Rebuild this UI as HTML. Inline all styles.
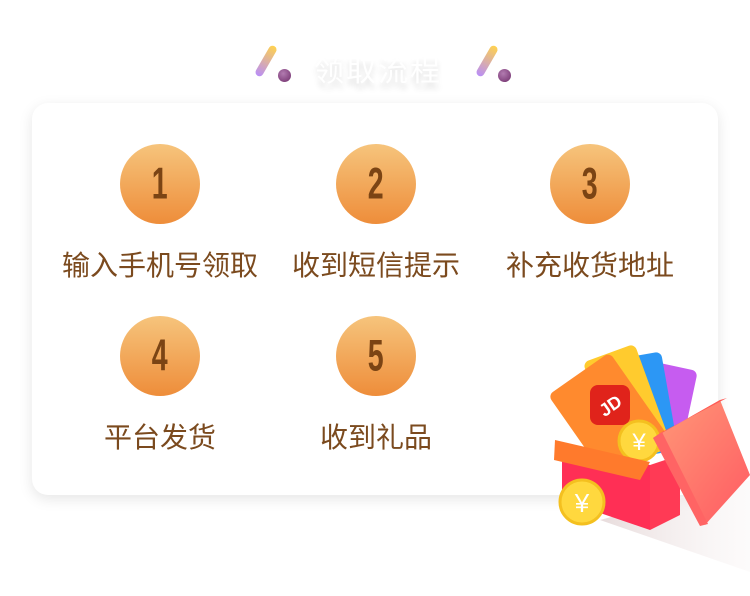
<!DOCTYPE html>
<html><head><meta charset="utf-8"><style>
body{margin:0;width:750px;height:596px;background:#fff;overflow:hidden;position:relative;font-family:"Liberation Sans","Noto Sans CJK SC",sans-serif}
.card{position:absolute;left:32px;top:103px;width:686px;height:392px;background:#fff;border-radius:16px;box-shadow:0 4px 14px rgba(0,0,0,0.10)}
.title{position:absolute;left:314px;top:46px;font-size:30px;color:#fff;text-shadow:0 6px 6px rgba(0,0,0,0.12);letter-spacing:2px}
.step{position:absolute;width:220px;text-align:center}
.circ{width:80px;height:80px;border-radius:50%;margin:0 auto;background:linear-gradient(#f6c47c,#ee8d3a);color:#7b4414;font-size:42px;font-weight:bold;line-height:80px;font-family:"Liberation Sans Narrow","Liberation Sans",sans-serif}
.circ span{display:inline-block;transform:scale(0.68,1.05)}
.lab{margin-top:23px;font-size:28px;line-height:38px;color:#7b4a1e;font-family:"Liberation Sans","Noto Sans CJK SC",sans-serif;white-space:nowrap}
.stick{position:absolute;width:8px;height:34px;border-radius:4px;background:linear-gradient(#ffd24f,#b98ef7);transform:rotate(30deg)}
.ball{position:absolute;width:13px;height:13px;border-radius:50%;background:radial-gradient(circle at 40% 35%,#b27bb0,#6f2e6a)}
</style></head><body>
<div class="stick" style="left:262px;top:44px"></div>
<div class="ball" style="left:278px;top:69px"></div>
<div class="title">领取流程</div>
<div class="stick" style="left:483px;top:44px"></div>
<div class="ball" style="left:498px;top:69px"></div>
<div class="card"></div>
<div class="step" style="left:50px;top:144px"><div class="circ"><span>1</span></div><div class="lab">输入手机号领取</div></div>
<div class="step" style="left:266px;top:144px"><div class="circ"><span>2</span></div><div class="lab">收到短信提示</div></div>
<div class="step" style="left:480px;top:144px"><div class="circ"><span>3</span></div><div class="lab">补充收货地址</div></div>
<div class="step" style="left:50px;top:316px"><div class="circ"><span>4</span></div><div class="lab">平台发货</div></div>
<div class="step" style="left:266px;top:316px"><div class="circ"><span>5</span></div><div class="lab">收到礼品</div></div>
<svg style="position:absolute;left:540px;top:340px" width="210" height="256" viewBox="0 0 210 256">
<defs>
<linearGradient id="sh" x1="0" y1="0" x2="1" y2="0"><stop offset="0" stop-color="#e8dcdc"/><stop offset="1" stop-color="#f7f2f2" stop-opacity="0.3"/></linearGradient>
<linearGradient id="lid" x1="0" y1="0" x2="1" y2="1"><stop offset="0" stop-color="#ff9a78"/><stop offset="1" stop-color="#ff5a62"/></linearGradient>
</defs>
<polygon points="60,180 210,140 210,232" fill="url(#sh)"/>
<rect x="100" y="25" width="50" height="80" rx="6" fill="#c65cf0" transform="rotate(12 125 65)"/>
<rect x="80" y="15" width="50" height="100" rx="6" fill="#2c97f5" transform="rotate(-10 105 65)"/>
<rect x="60" y="10" width="55" height="110" rx="6" fill="#ffcb2e" transform="rotate(-20 87 65)"/>
<rect x="30" y="25" width="75" height="100" rx="6" fill="#ff8a2e" transform="rotate(-35 67 75)"/>
<rect x="50" y="45" width="40" height="40" rx="8" fill="#e0231b"/>
<text x="70" y="72" font-size="18" font-weight="bold" fill="#fff" text-anchor="middle" font-family="Liberation Sans,sans-serif" transform="rotate(-35 70 65)">JD</text>
<circle cx="99" cy="101" r="20" fill="#ffd83e" stroke="#f4c01f" stroke-width="3"/>
<text x="99" y="110" font-size="24" fill="#fff" text-anchor="middle">¥</text>
<polygon points="22,105 110,125 110,190 22,160" fill="#ff2f55"/>
<polygon points="110,125 140,115 140,175 110,190" fill="#ff3a55"/>
<polygon points="15,100 110,122 100,140 14,120" fill="#ff7a2c"/>
<polygon points="113,98 180,60 210,135 165,185" fill="url(#lid)"/>
<polygon points="113,98 180,60 187,58 122,92" fill="#ff5a55"/>
<polygon points="113,98 122,92 168,184 160,186" fill="#ff6464"/>
<circle cx="42" cy="162" r="22" fill="#ffd83e" stroke="#f4c01f" stroke-width="3"/>
<text x="42" y="172" font-size="26" fill="#fff" text-anchor="middle">¥</text>
</svg>
</body></html>
